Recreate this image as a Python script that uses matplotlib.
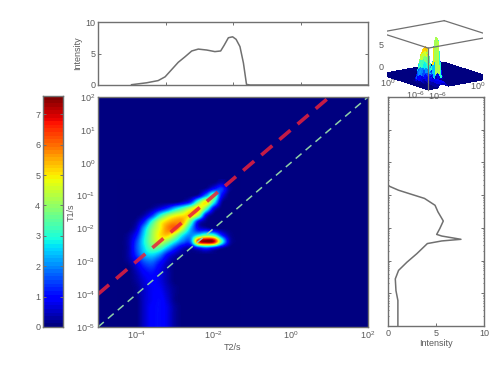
import numpy as np
import matplotlib
matplotlib.use('Agg')
import matplotlib.pyplot as plt
from mpl_toolkits.mplot3d import Axes3D

plt.rcParams['font.family'] = ['Liberation Sans', 'DejaVu Sans']
plt.rcParams['mathtext.fontset'] = 'custom'
plt.rcParams['mathtext.rm'] = 'Liberation Sans'
plt.rcParams['mathtext.default'] = 'regular'

# 2D map, exponents of T2 (columns) and T1 (rows, top to bottom)
t2_exp = [-4.4, -4.2, -4.0, -3.8, -3.6, -3.4, -3.2, -3.0, -2.8, -2.6, -2.4, -2.2, -2.0, -1.8, -1.6, -1.4]
t1_exp = [-0.6, -0.8, -1.0, -1.2, -1.4, -1.6, -1.8, -2.0, -2.2, -2.4, -2.6, -2.8, -3.0, -3.2, -3.4, -3.6,
          -3.8, -4.0, -4.2, -4.4, -4.6, -4.8, -5.0]
intensity = [
    [0, 0, 0, 0, 0, 0, 0, 0, 0, 0, 0, 0, 0, 0.3, 0, 0],
    [0, 0, 0, 0, 0, 0, 0, 0, 0, 0, 0, 0.2, 1.0, 1.4, 0.2, 0],
    [0, 0, 0, 0, 0, 0, 0, 0, 0, 0, 0.4, 2.0, 3.6, 1.0, 0, 0],
    [0, 0, 0, 0, 0, 0, 0, 0, 0.4, 1.2, 3.5, 5.0, 3.0, 0.3, 0, 0],
    [0, 0, 0, 0, 0.2, 0.7, 1.4, 2.5, 3.4, 4.5, 5.2, 3.5, 0.8, 0, 0, 0],
    [0, 0, 0, 0.3, 1.2, 2.8, 4.0, 4.7, 5.0, 5.2, 4.2, 0.9, 0, 0, 0, 0],
    [0, 0, 0.2, 1.2, 3.0, 4.5, 5.3, 5.7, 5.5, 3.6, 0.9, 0.1, 0, 0, 0, 0],
    [0, 0, 0.5, 2.2, 3.8, 4.8, 5.8, 6.0, 4.5, 2.4, 0.8, 0.4, 0.1, 0, 0, 0],
    [0, 0.2, 1.0, 2.6, 4.0, 5.0, 5.3, 4.3, 2.8, 2.0, 2.6, 3.4, 3.0, 1.2, 0.2, 0],
    [0, 0.3, 1.4, 2.8, 4.0, 4.6, 3.9, 2.8, 1.8, 1.8, 6.6, 7.6, 7.2, 3.4, 0.5, 0],
    [0, 0.3, 1.5, 2.6, 3.5, 3.4, 2.4, 1.3, 0.5, 0.3, 1.0, 1.5, 1.0, 0.3, 0, 0],
    [0, 0.3, 1.3, 2.3, 2.6, 2.1, 1.0, 0.4, 0.1, 0, 0, 0, 0, 0, 0, 0],
    [0, 0.2, 0.8, 1.6, 1.8, 1.2, 0.5, 0.1, 0, 0, 0, 0, 0, 0, 0, 0],
    [0, 0, 0.5, 1.1, 1.3, 0.8, 0.3, 0, 0, 0, 0, 0, 0, 0, 0, 0],
    [0, 0, 0.3, 0.8, 1.0, 0.7, 0.3, 0, 0, 0, 0, 0, 0, 0, 0, 0],
    [0, 0, 0.2, 0.6, 0.9, 0.7, 0.3, 0, 0, 0, 0, 0, 0, 0, 0, 0],
    [0, 0, 0.1, 0.5, 0.8, 0.8, 0.4, 0.1, 0, 0, 0, 0, 0, 0, 0, 0],
    [0, 0, 0.1, 0.5, 0.8, 0.9, 0.5, 0.1, 0, 0, 0, 0, 0, 0, 0, 0],
    [0, 0, 0, 0.5, 0.8, 1.0, 0.6, 0.1, 0, 0, 0, 0, 0, 0, 0, 0],
    [0, 0, 0, 0.5, 0.9, 1.0, 0.7, 0.2, 0, 0, 0, 0, 0, 0, 0, 0],
    [0, 0, 0, 0.5, 0.9, 1.0, 0.7, 0.2, 0, 0, 0, 0, 0, 0, 0, 0],
    [0, 0, 0, 0.5, 0.9, 1.0, 0.7, 0.2, 0, 0, 0, 0, 0, 0, 0, 0],
    [0, 0, 0, 0.5, 0.9, 1.0, 0.7, 0.2, 0, 0, 0, 0, 0, 0, 0, 0],
]

# T2 projection (top)
top_exp = [-4.13, -3.74, -3.44, -3.26, -3.09, -2.92, -2.74, -2.57, -2.40, -2.18, -1.97, -1.82, -1.73, -1.62,
           -1.51, -1.42, -1.32, -1.23, -1.15, -1.06, 2.0]
top_val = [0.05, 0.35, 0.7, 1.3, 2.45, 3.6, 4.5, 5.4, 5.7, 5.55, 5.3, 5.4, 6.3, 7.5,
           7.65, 7.25, 6.1, 3.5, 0.1, 0, 0]

# T1 projection (right)
right_exp = [-0.71, -0.85, -0.98, -1.10, -1.31, -1.51, -1.79, -2.02, -2.2, -2.25, -2.35, -2.40, -2.48, -2.79,
             -3.05, -3.3, -3.56, -3.92, -4.22, -5.0]
right_val = [0, 1.1, 2.5, 3.8, 4.9, 5.2, 5.76, 5.4, 5.07, 5.6, 7.6, 5.6, 4.1, 3.0,
             1.97, 1.1, 0.76, 0.83, 1.03, 1.03]

# guide lines
ratio10_t2 = [-5, 1]
ratio10_t1 = [-4, 2]
ratio1_t2 = [-5, 2]
ratio1_t1 = [-5, 2]

W, H = 500, 370
GREY = '#707070'
TXT = '#5a5a5a'
FS = 6.5
VMAX = 7.6


def box(x0, y0, x1, y1):
    return [x0 / W, 1 - y1 / H, (x1 - x0) / W, (y1 - y0) / H]


def style(ax):
    for s in ax.spines.values():
        s.set_color(GREY)
        s.set_linewidth(1)
    ax.tick_params(which='both', direction='in', length=2, width=0.7, color=GREY,
                   labelcolor=TXT, labelsize=FS, pad=2)


def pow_labels(vals):
    return ['$10^{%d}$' % v for v in vals]


fig = plt.figure(figsize=(5, 3.7), dpi=100)

# main map
ax = fig.add_axes(box(98, 97, 368, 327))
ax.set_facecolor(plt.get_cmap('jet')(0))
ax.imshow(intensity, cmap='jet', vmin=0, vmax=VMAX, interpolation='catrom', aspect='auto',
          extent=[-4.5, -1.3, -5.1, -0.5], origin='upper')
ax.plot(ratio1_t2, ratio1_t1, color='#8fd0a8', lw=1.1, dashes=(5, 3.5))
ax.plot(ratio10_t2, ratio10_t1, color='#e8203c', lw=2.6, alpha=0.85, dashes=(4, 2.6))
ax.set_xlim(-5, 2)
ax.set_ylim(-5, 2)
ax.set_xticks([-4, -2, 0, 2], pow_labels([-4, -2, 0, 2]))
ax.set_yticks(range(-5, 3), pow_labels(range(-5, 3)))
style(ax)
ax.tick_params(length=0)
ax.set_xlabel('T2/s', fontsize=FS, color=TXT, labelpad=1)
ax.set_ylabel('T1/s', fontsize=FS, color=TXT, labelpad=0)

# top projection
ax_top = fig.add_axes(box(98, 22, 368, 85))
ax_top.plot(top_exp, top_val, color=GREY, lw=1.1)
ax_top.set_xlim(-5, 2)
ax_top.set_ylim(0, 10)
ax_top.set_xticks([-3.25, -1.5, 0.25])
ax_top.set_xticklabels([])
ax_top.set_yticks([0, 5, 10])
style(ax_top)
ax_top.tick_params(top=True, right=True)
ax_top.set_ylabel('Intensity', fontsize=FS, color=TXT, labelpad=2)

# right projection
ax_r = fig.add_axes(box(388, 97, 484, 326))
ax_r.plot(right_val, right_exp, color=GREY, lw=1.1)
ax_r.set_xlim(0, 10)
ax_r.set_ylim(-5, 2)
ax_r.set_xticks([0, 5, 10])
ax_r.set_yticks(range(-5, 3))
ax_r.set_yticks(np.log10(np.outer(10.0 ** np.arange(-5, 2), np.arange(2, 10))).ravel(), minor=True)
ax_r.set_yticklabels([])
style(ax_r)
ax_r.tick_params(which='both', right=True)
ax_r.tick_params(which='minor', length=1)
ax_r.set_xlabel('Intensity', fontsize=FS, color=TXT, labelpad=1)

# colorbar
cax = fig.add_axes(box(43, 96, 63, 327))
grad = np.linspace(0, VMAX, 64).reshape(-1, 1)
cax.imshow(grad, cmap='jet', vmin=0, vmax=VMAX, aspect='auto', origin='lower', extent=[0, 1, 0, VMAX])
cax.set_xticks([])
cax.yaxis.tick_left()
cax.set_yticks(range(8))
style(cax)
cax.tick_params(left=True, right=True)

# 3D inset
ax3 = fig.add_axes(box(372, 9, 498, 104), projection='3d')
ax3.patch.set_alpha(0)
ax3.computed_zorder = False
x3 = np.array([-5] + t2_exp + [2])
y3 = np.array([2] + t1_exp)
z3 = np.zeros((len(y3), len(x3)))
z3[1:, 1:-1] = intensity
X3, Y3 = np.meshgrid(x3, y3)
ax3.plot_surface(X3, Y3, z3, cmap='jet', vmin=0, vmax=VMAX, rstride=1, cstride=1, linewidth=0,
                 antialiased=False, shade=False, zorder=1)
ax3.set_xlim(-5, 2)
ax3.set_ylim(-5, 2)
ax3.set_zlim(0, VMAX)
ax3.set_axis_off()
ax3.set_proj_type('ortho')
ax3.view_init(elev=14, azim=-127)
ax3.set_box_aspect((1, 1, 0.53), zoom=1.25)
# box edges
for xs, ys, zs in [([-5, 2], [2, 2], [VMAX, VMAX]), ([-5, -5], [-5, 2], [VMAX, VMAX]),
                   ([-5, 2], [-5, -5], [VMAX, VMAX]), ([2, 2], [-5, 2], [VMAX, VMAX]),
                   ([-5, -5], [2, 2], [0, VMAX]), ([2, 2], [-5, -5], [0, VMAX]),
                   ([-5, -5], [-5, -5], [0, VMAX])]:
    ax3.plot(xs, ys, zs, color=GREY, lw=0.9, zorder=2)
fig.text(381 / W, 1 - 45 / H, '5', fontsize=FS, color=TXT, ha='center', va='center')
fig.text(381 / W, 1 - 68 / H, '0', fontsize=FS, color=TXT, ha='center', va='center')
fig.text(388 / W, 1 - 83 / H, '$10^{0}$', fontsize=FS, color=TXT, ha='center', va='center')
fig.text(416 / W, 1 - 95 / H, '$10^{-6}$', fontsize=FS, color=TXT, ha='center', va='center')
fig.text(438 / W, 1 - 96 / H, '$10^{-6}$', fontsize=FS, color=TXT, ha='center', va='center')
fig.text(478 / W, 1 - 86 / H, '$10^{0}$', fontsize=FS, color=TXT, ha='center', va='center')

fig.savefig('out.png', dpi=100)
